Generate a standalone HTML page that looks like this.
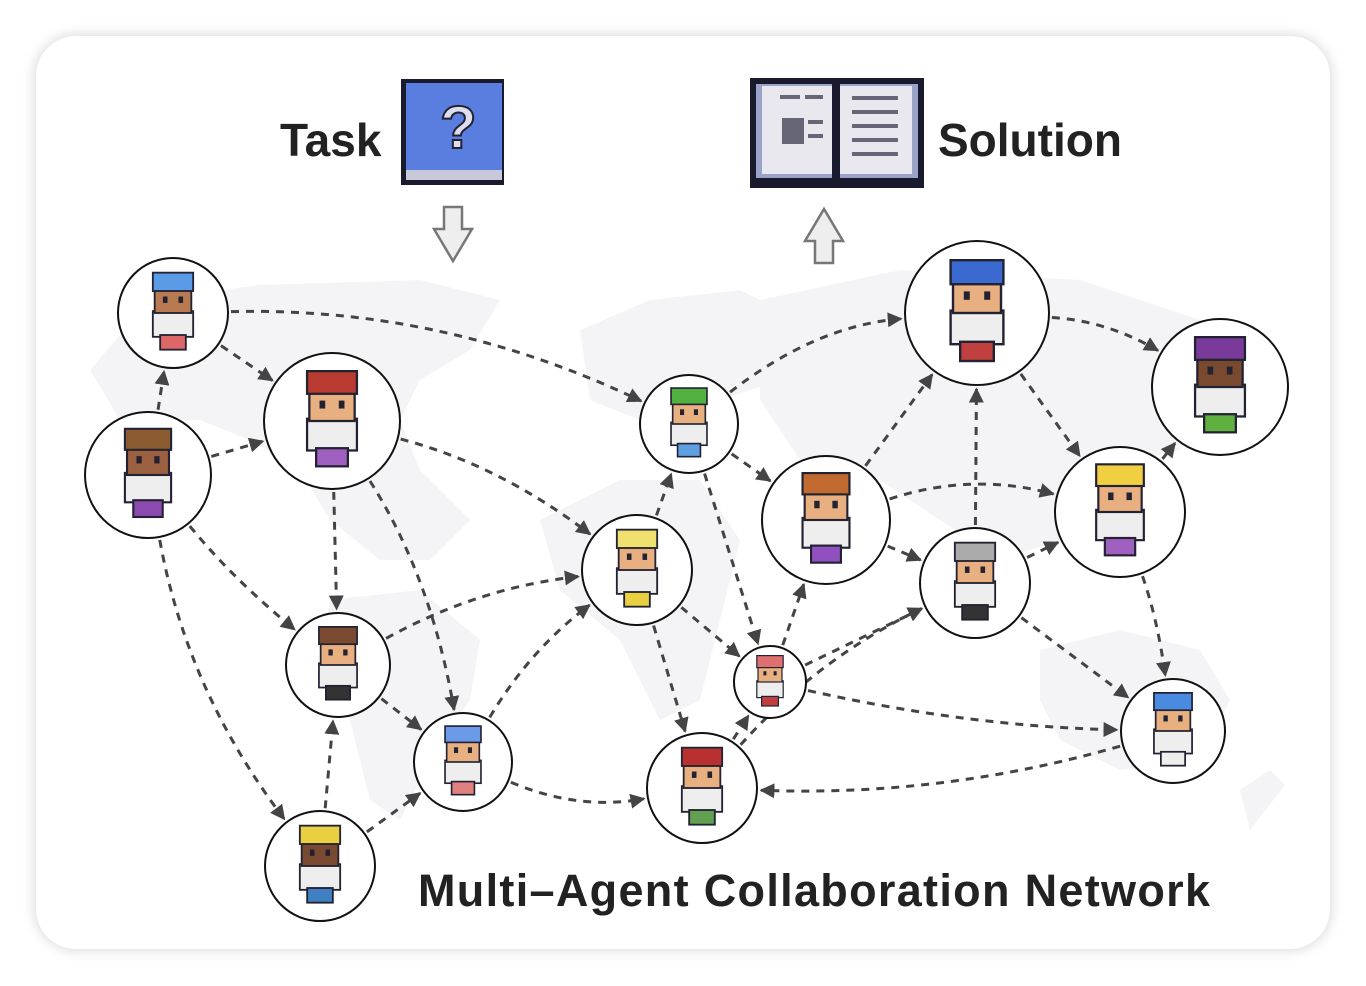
<!DOCTYPE html>
<html><head><meta charset="utf-8"><style>
html,body{margin:0;padding:0;background:#fff;}
body{width:1366px;height:986px;overflow:hidden;position:relative;font-family:"Liberation Sans",sans-serif;}
.card{position:absolute;left:36px;top:36px;width:1294px;height:913px;border-radius:40px;background:#fff;box-shadow:0 0 14px rgba(0,0,0,0.18);}
</style></head><body>
<div class="card"></div>
<svg id="s" width="1366" height="986" style="position:absolute;left:0;top:0">
<defs>
<marker id="ah" viewBox="0 0 10 10" refX="9" refY="5" markerWidth="5" markerHeight="5" orient="auto"><path d="M0,0L10,5L0,10z" fill="#444"/></marker>
</defs>
<g fill="#f4f4f6">
<path d="M90,370 L150,300 L260,285 L420,280 L500,300 L470,350 L420,380 L400,420 L420,470 L470,520 L430,560 L380,560 L330,520 L300,470 L250,440 L200,420 L120,420 Z"/>
<path d="M330,600 L420,590 L480,640 L470,700 L430,760 L400,820 L370,800 L350,720 L320,660 Z"/>
<path d="M580,330 L650,300 L740,290 L800,320 L780,380 L720,400 L640,420 L590,400 Z"/>
<path d="M540,520 L620,480 L700,480 L740,540 L720,620 L700,700 L660,720 L620,640 L560,590 Z"/>
<path d="M760,300 L900,270 L1080,280 L1200,320 L1240,380 L1180,450 L1100,470 L1060,540 L1000,560 L940,520 L880,480 L800,460 L760,400 Z"/>
<path d="M1040,650 L1120,630 L1200,650 L1230,700 L1200,760 L1120,770 L1060,740 L1040,700 Z"/>
<path d="M1240,790 L1270,770 L1285,785 L1250,830 Z"/>
</g>
<g id="edges" fill="none" stroke="#444" stroke-width="3" stroke-dasharray="8 7"></g>
<g id="nodes"></g>
<text x="280" y="156" font-size="46" font-weight="bold" fill="#222">Task</text>
<rect x="401" y="79" width="103" height="106" fill="#1a1a2e"/>
<rect x="406" y="83" width="96" height="90" fill="#5a7de0"/>
<rect x="406" y="170" width="96" height="10" fill="#c8c8d8"/>
<text x="440" y="148" font-size="60" font-weight="bold" fill="#dde" stroke="#223" stroke-width="2">?</text>
<path d="M444,207h18v22h10l-19,32l-19,-32h10z" fill="#eee" stroke="#777" stroke-width="2.5"/>
<rect x="750" y="78" width="174" height="110" fill="#1a1a2e"/>
<rect x="756" y="84" width="162" height="94" fill="#9aa3c8"/>
<rect x="762" y="86" width="70" height="88" fill="#e8e8ee"/>
<rect x="840" y="86" width="72" height="88" fill="#e8e8ee"/>
<rect x="832" y="84" width="8" height="100" fill="#1a1a2e"/>
<g fill="#667">
<rect x="780" y="95" width="20" height="4"/><rect x="805" y="95" width="18" height="4"/><rect x="782" y="118" width="22" height="26"/><rect x="808" y="120" width="15" height="4"/><rect x="808" y="134" width="15" height="4"/>
<rect x="852" y="96" width="46" height="4"/><rect x="852" y="110" width="46" height="4"/><rect x="852" y="124" width="46" height="4"/><rect x="852" y="138" width="46" height="4"/><rect x="852" y="152" width="46" height="4"/>
</g>
<text x="938" y="156" font-size="46" font-weight="bold" fill="#222">Solution</text>
<path d="M815,263h18v-22h10l-19,-32l-19,32h10z" fill="#eee" stroke="#777" stroke-width="2.5"/>
<text x="418" y="906" font-size="45" font-weight="bold" fill="#222" textLength="792" lengthAdjust="spacing">Multi–Agent Collaboration Network</text>
</svg>
<script>
var N=[[173,313,55,'#5a9be8','#b87a50','#d66'],[148,475,63,'#8a5a30','#9a6040','#8a4ab0'],[332,421,68,'#b83a30','#e8b080','#a060c0'],[338,665,52,'#7a4a30','#e8b080','#333'],[320,866,55,'#e8d040','#7a4a30','#4080c0'],[463,762,49,'#6a9ae8','#e8b080','#e08080'],[637,570,55,'#f0e070','#e8b080','#e8d040'],[689,424,49,'#50b040','#e8b080','#60a0e0'],[826,520,64,'#c06a30','#e8b080','#9050c0'],[770,682,36,'#e07070','#e8b080','#c04040'],[702,788,55,'#b83030','#e8b080','#60a050'],[977,313,72,'#3a6ad0','#e8b080','#c04040'],[1220,387,68,'#7a3a9a','#7a4a30','#60b040'],[1120,512,65,'#f0d040','#e8b080','#a060c0'],[975,583,55,'#aaaaaa','#e8b080','#333'],[1173,731,52,'#4a8ae0','#e8b080','#eee']];
var E=[[0,2],[1,0],[1,2],[0,7,-0.12],[2,6,-0.1],[2,3],[1,3,0.05],[1,4,0.12],[2,5,-0.1],[3,5],[4,3],[4,5],[3,6,-0.1],[5,6,-0.1],[5,10,0.15],[6,7],[6,10],[6,9],[7,8],[7,9],[7,11,-0.15],[9,8],[8,11],[10,9],[10,14,-0.1],[9,14],[8,14],[8,13,-0.15],[14,11],[11,12,-0.12],[11,13],[14,13],[13,12],[13,15,-0.05],[14,15],[9,15,0.05],[15,10,-0.08]];
var ns='http://www.w3.org/2000/svg',eg=document.getElementById('edges'),ng=document.getElementById('nodes');
E.forEach(function(e){var a=N[e[0]],b=N[e[1]],k=e[2]||0;
var dx=b[0]-a[0],dy=b[1]-a[1];
var cx=(a[0]+b[0])/2-dy*k,cy=(a[1]+b[1])/2+dx*k;
var u1x=cx-a[0],u1y=cy-a[1],l1=Math.hypot(u1x,u1y);var u2x=cx-b[0],u2y=cy-b[1],l2=Math.hypot(u2x,u2y);
var sx=a[0]+u1x/l1*(a[2]+3),sy=a[1]+u1y/l1*(a[2]+3),ex=b[0]+u2x/l2*(b[2]+4),ey=b[1]+u2y/l2*(b[2]+4);
var p=document.createElementNS(ns,'path');p.setAttribute('d','M'+sx+','+sy+'Q'+cx+','+cy+' '+ex+','+ey);p.setAttribute('marker-end','url(#ah)');eg.appendChild(p);});
N.forEach(function(n){var x=n[0],y=n[1],r=n[2],s=r/60;
var h='<circle cx="'+x+'" cy="'+y+'" r="'+r+'" fill="#fff" stroke="#111" stroke-width="2"/>'+
'<g transform="translate('+x+','+y+') scale('+s+')">'+
'<rect x="-22" y="-2" width="44" height="28" fill="#eee" stroke="#223" stroke-width="2"/>'+
'<rect x="-14" y="24" width="28" height="16" fill="'+n[5]+'" stroke="#223" stroke-width="2"/>'+
'<rect x="-20" y="-32" width="40" height="32" fill="'+n[4]+'" stroke="#223" stroke-width="2"/>'+
'<rect x="-22" y="-44" width="44" height="20" fill="'+n[3]+'" stroke="#223" stroke-width="2"/>'+
'<rect x="-11" y="-18" width="5" height="7" fill="#223"/><rect x="6" y="-18" width="5" height="7" fill="#223"/></g>';
ng.insertAdjacentHTML('beforeend',h);});
</script>
</body></html>
